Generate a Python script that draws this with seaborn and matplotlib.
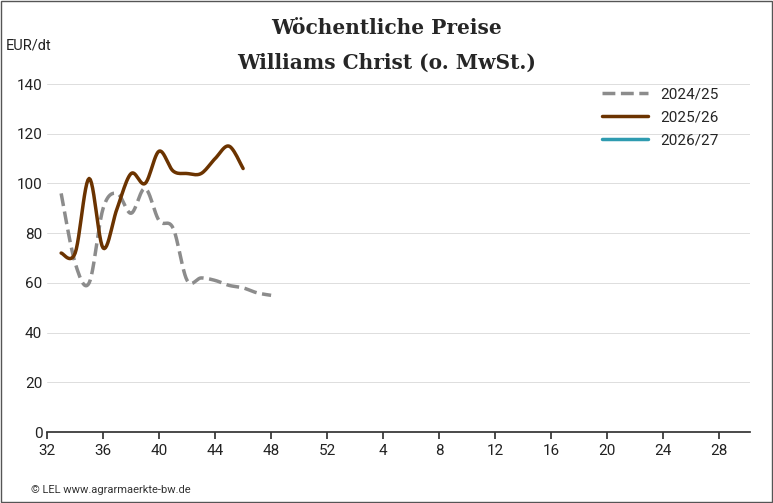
import numpy as np
import pandas as pd
import matplotlib
matplotlib.use('Agg')
import matplotlib.pyplot as plt
import seaborn as sns

sns.set_theme(style='white')
plt.rcParams['font.family'] = ['Roboto', 'DejaVu Sans']

week_labels = [32, 36, 40, 44, 48, 52, 4, 8, 12, 16, 20, 24, 28]
weeks_2425 = [33, 34, 35, 36, 37, 38, 39, 40, 41, 42, 43, 44, 45, 46, 47, 48]
price_2425 = [96, 68, 60, 90, 96, 88, 98, 85, 82, 61, 62, 61, 59, 58, 56, 55]
weeks_2526 = [33, 34, 35, 36, 37, 38, 39, 40, 41, 42, 43, 44, 45, 46]
price_2526 = [72, 72, 102, 74, 90, 104, 100, 113, 105, 104, 104, 110, 115, 106]


def smooth(x, y, n=12):
    # catmull-rom through the points
    x = np.asarray(x, float); y = np.asarray(y, float)
    px = np.r_[x[0], x, x[-1]]; py = np.r_[y[0], y, y[-1]]
    xs, ys = [], []
    t = np.linspace(0, 1, n, endpoint=False)
    for i in range(1, len(px) - 2):
        for p, out in ((px, xs), (py, ys)):
            p0, p1, p2, p3 = p[i-1], p[i], p[i+1], p[i+2]
            out.extend(0.5 * (2*p1 + (-p0+p2)*t + (2*p0-5*p1+4*p2-p3)*t**2 + (-p0+3*p1-3*p2+p3)*t**3))
    xs.append(x[-1]); ys.append(y[-1])
    return np.array(xs), np.array(ys)


fig, ax = plt.subplots(figsize=(7.73, 5.03), dpi=100)
fig.subplots_adjust(left=0.061, right=0.97, top=0.833, bottom=0.141)

x1, y1 = smooth(weeks_2425, price_2425)
x2, y2 = smooth(weeks_2526, price_2526)
sns.lineplot(x=x1, y=y1, ax=ax, color='#8c8c8c', lw=2.5, linestyle='--', label='2024/25', sort=False)
sns.lineplot(x=x2, y=y2, ax=ax, color='#6b3300', lw=2.5, label='2025/26', sort=False)
ax.plot([], [], color='#2e9bb0', lw=2.5, label='2026/27')

ticks = [32 + 4*i for i in range(len(week_labels))]
ax.set_xticks(ticks)
ax.set_xticklabels(week_labels)
ax.set_xlim(32, 82.2)
ax.set_ylim(0, 140)
ax.set_yticks(range(0, 141, 20))
ax.yaxis.grid(True, color='#dddddd', lw=0.7)
for s in ['top', 'right', 'left']:
    ax.spines[s].set_visible(False)
ax.spines['bottom'].set_color('#333333')
ax.tick_params(axis='x', bottom=True, length=5, color='#333333', labelsize=11, colors='#222222')
ax.tick_params(axis='y', length=0, labelsize=11, colors='#222222')
ax.set_xlabel(''); ax.set_ylabel('')

ax.legend(loc='upper right', bbox_to_anchor=(0.975, 1.03), frameon=False, fontsize=11,
          handlelength=3, labelspacing=0.6)

fig.text(0.5, 0.945, 'Wöchentliche Preise', ha='center', va='center',
         family='DejaVu Serif', fontsize=14.5, weight='bold')
fig.text(0.5, 0.875, 'Williams Christ (o. MwSt.)', ha='center', va='center',
         family='DejaVu Serif', fontsize=14.5, weight='bold')
fig.text(0.008, 0.91, 'EUR/dt', fontsize=10.5, color='#222222', va='center')
fig.text(0.04, 0.025, '© LEL www.agrarmaerkte-bw.de', fontsize=8, color='#333333', va='center')
fig.patches.append(plt.Rectangle((0.001, 0.001), 0.998, 0.998, transform=fig.transFigure,
                                 fill=False, edgecolor='#555555', lw=1))

fig.savefig('out.png', dpi=100)
